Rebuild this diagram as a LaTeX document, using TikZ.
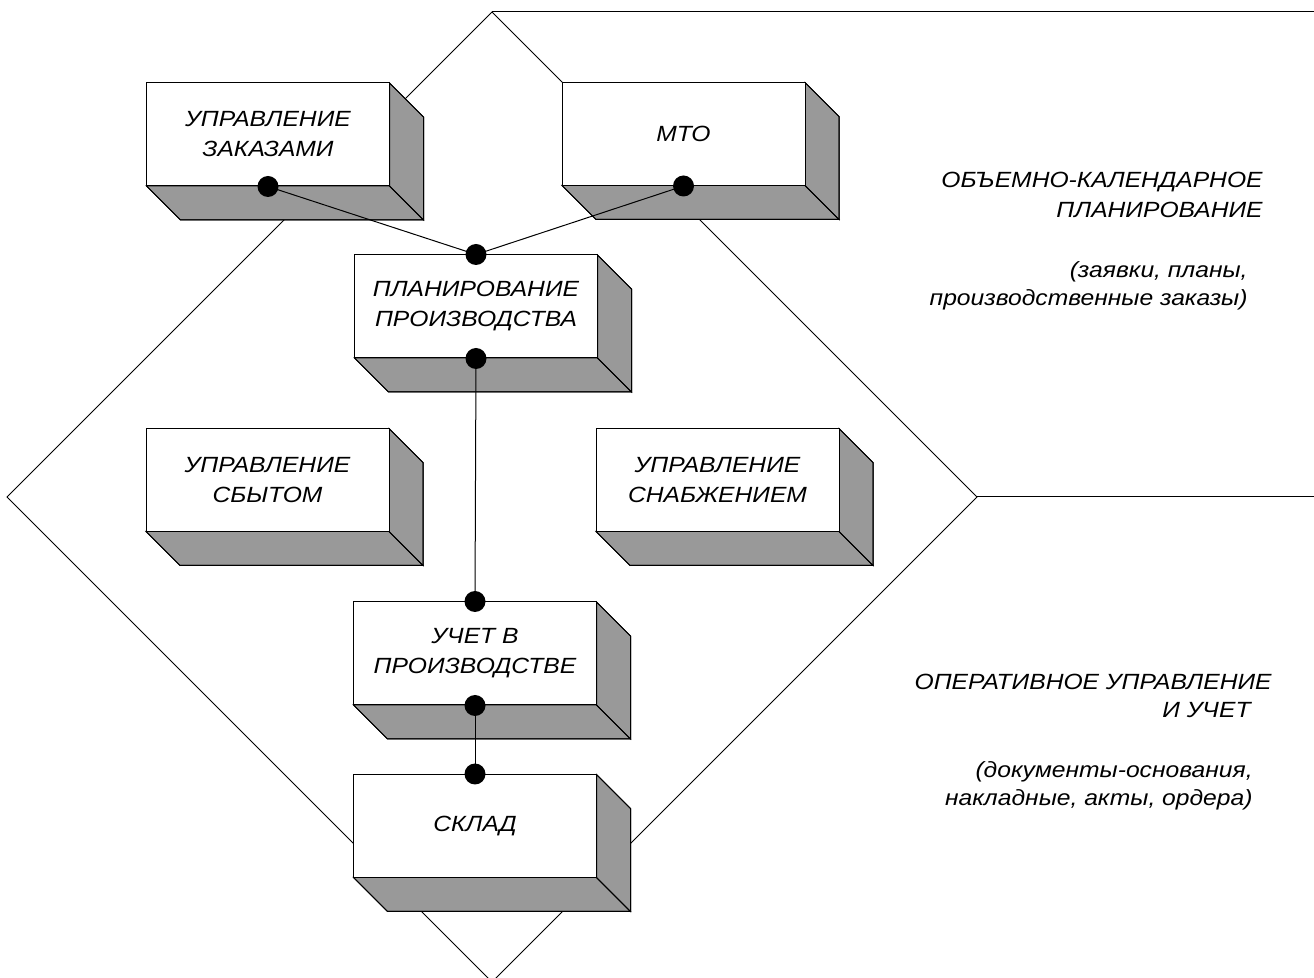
\documentclass[tikz,border=0pt]{standalone}
\usepackage{fontspec}
\setmainfont{Liberation Sans}[FakeStretch=1.12]
\definecolor{shade}{RGB}{153,153,153}
\tikzset{
  x=0.5pt, y=-0.5pt,
  outline/.style={draw=black, line width=0.5pt, line join=miter},
  front/.style={outline, fill=white, rectangle, inner sep=0pt,
    minimum width=121.5pt, minimum height=51.5pt, align=center,
    font=\fontsize{11pt}{15pt}\selectfont\itshape},
  sideface/.style={outline, fill=shade},
  dot/.style={circle, fill=black, inner sep=0pt, minimum size=10.5pt},
  link/.style={draw=black, line width=0.5pt},
  caption/.style={anchor=east, inner sep=0pt,
    font=\fontsize{11pt}{15pt}\selectfont\itshape},
}
% a slab: white front face with a shaded bottom and right side
\newcommand\slab[4]{%
  \fill[sideface] (#2-121.5,#3+51.5) -- ++(34,34) -- ++(243,0) -- ++(-34,-34) -- cycle;
  \fill[sideface] (#2+121.5,#3-51.5) -- ++(34,34) -- ++(0,103) -- ++(-34,-34) -- cycle;
  \draw[outline] (#2-121.5,#3+51.5) -- ++(34,34) -- ++(243,0) -- ++(0,-103) -- ++(-34,-34);
  \draw[outline] (#2+121.5,#3+51.5) -- ++(34,34);
  \node[front] (#1) at (#2,#3) {#4};
}
\begin{document}
\begin{tikzpicture}
\useasboundingbox (0,0) rectangle (1314,978);
\clip (0,0) rectangle (1314,978);

% outer frame: diamond with the two band separators
\coordinate (top) at (492,12);
\coordinate (right) at (977,497);
\coordinate (bottom) at (492,982);
\coordinate (left) at (7,497);
\coordinate (topend) at (1314,12);
\coordinate (midend) at (1314,497);
\draw[link] (top) -- (right) -- (bottom) -- (left) -- cycle;
\draw[link] (top) -- (topend);
\draw[link] (right) -- (midend);

% modules
\slab{orders}{268}{134.5}{УПРАВЛЕНИЕ\\ЗАКАЗАМИ}
\slab{mto}{683.5}{134}{МТО}
\slab{plan}{476}{306.5}{ПЛАНИРОВАНИЕ\\ПРОИЗВОДСТВА}
\slab{sales}{267.5}{480}{УПРАВЛЕНИЕ\\СБЫТОМ}
\slab{supply}{717.5}{480}{УПРАВЛЕНИЕ\\СНАБЖЕНИЕМ}
\slab{acc}{475}{653.5}{УЧЕТ В\\ПРОИЗВОДСТВЕ}
\slab{store}{475}{826}{СКЛАД}

% connectors with joint dots
\coordinate (p1) at (orders.south);
\coordinate (p2) at (mto.south);
\coordinate (p3) at (plan.north);
\coordinate (p4) at (plan.south);
\coordinate (p5) at (acc.north);
\coordinate (p6) at (acc.south);
\coordinate (p7) at (store.north);
\draw[link] (p1) -- (p3);
\draw[link] (p2) -- (p3);
\draw[link] (p4) -- (p5);
\draw[link] (p6) -- (p7);
\foreach \p in {p1,p2,p3,p4,p5,p6,p7}
  \node[dot] (dot-\p) at (\p) {};

% band captions
\node[caption] (cap1) at (1263,182) {ОБЪЕМНО-КАЛЕНДАРНОЕ};
\node[caption] (cap2) at (1263,210) {ПЛАНИРОВАНИЕ};
\node[caption] (cap3) at (1248,272) {(заявки,\ планы,};
\node[caption] (cap4) at (1248,300) {производственные заказы)};
\node[caption] (cap5) at (1272,682) {ОПЕРАТИВНОЕ УПРАВЛЕНИЕ};
\node[caption] (cap6) at (1251,710) {И УЧЕТ};
\node[caption] (cap7) at (1253,772) {(документы-основания,};
\node[caption] (cap8) at (1253,800) {накладные, акты, ордера)};
\end{tikzpicture}
\end{document}
